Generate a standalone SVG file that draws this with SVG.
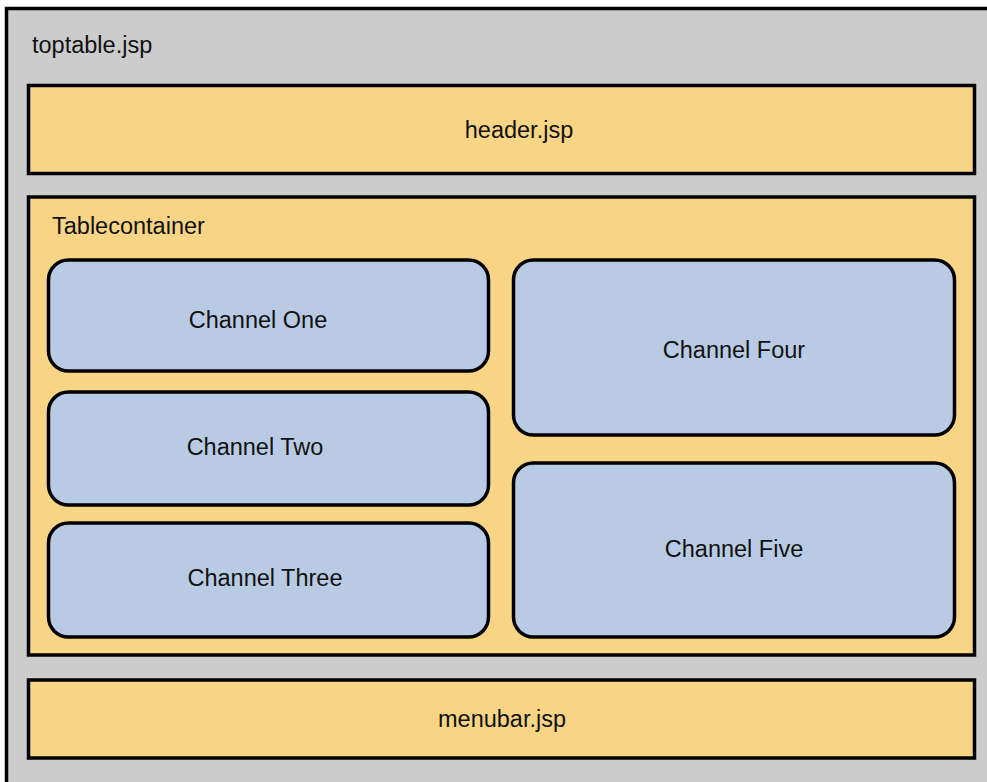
<svg xmlns="http://www.w3.org/2000/svg" width="987" height="782" viewBox="0 0 987 782">
  <style>
    .frame { fill: #cccccc; stroke: #000; stroke-width: 3.5; }
    .part { fill: #f7d585; stroke: #000; stroke-width: 3.5; }
    .chan { fill: #b9cbe4; stroke: #000; stroke-width: 3.5; }
    text { font-family: "Liberation Sans", Arial, Helvetica, sans-serif; font-size: 23.5px; fill: #111; }
    .c { text-anchor: middle; dominant-baseline: central; }
  </style>
  <g id="toptable">
    <rect class="frame" x="6.5" y="8.5" width="990" height="780"/>
    <text x="32" y="53">toptable.jsp</text>
  </g>
  <g id="header">
    <rect class="part" x="28.5" y="85.5" width="946" height="88"/>
    <text class="c" x="519" y="130">header.jsp</text>
  </g>
  <g id="tablecontainer">
    <rect class="part" x="28.5" y="197" width="946" height="458"/>
    <text x="52" y="234">Tablecontainer</text>
  </g>
  <g id="channel-one">
    <rect class="chan" x="48.5" y="260" width="440" height="111" rx="20"/>
    <text class="c" x="258" y="320">Channel One</text>
  </g>
  <g id="channel-two">
    <rect class="chan" x="48.5" y="392" width="440" height="113" rx="20"/>
    <text class="c" x="255" y="447">Channel Two</text>
  </g>
  <g id="channel-three">
    <rect class="chan" x="48.5" y="523" width="440" height="114" rx="20"/>
    <text class="c" x="265" y="578">Channel Three</text>
  </g>
  <g id="channel-four">
    <rect class="chan" x="513.5" y="260" width="441" height="175" rx="20"/>
    <text class="c" x="734" y="350">Channel Four</text>
  </g>
  <g id="channel-five">
    <rect class="chan" x="513.5" y="463" width="441" height="174" rx="20"/>
    <text class="c" x="734" y="549">Channel Five</text>
  </g>
  <g id="menubar">
    <rect class="part" x="28.5" y="680" width="946" height="78"/>
    <text class="c" x="502" y="719">menubar.jsp</text>
  </g>
  <g id="connectors"/>
</svg>
